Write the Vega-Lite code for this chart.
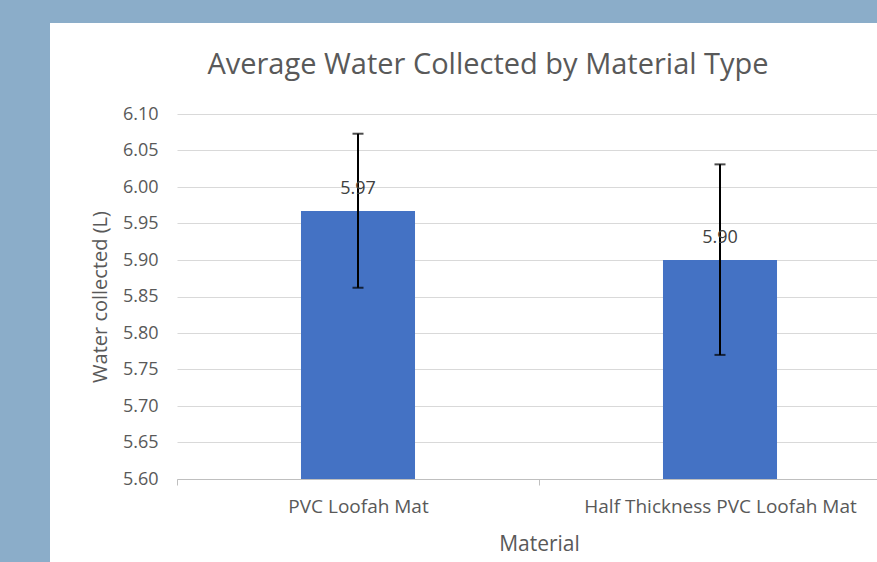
{
  "$schema": "https://vega.github.io/schema/vega-lite/v6.json",
  "width": 700,
  "height": 329,
  "autosize": {"type": "none"},
  "padding": {"left": 177, "top": 150, "right": 0, "bottom": 83},
  "background": "#8BADC9",
  "config": {
    "view": {"fill": "white", "stroke": "white", "strokeWidth": 254},
    "font": "Open Sans",
    "axisY": {
      "grid": true,
      "gridColor": "#D9D9D9",
      "gridWidth": 1,
      "domain": false,
      "ticks": false,
      "tickSize": 0,
      "tickCount": 10,
      "format": ".2f",
      "labelPadding": 19,
      "labelFontSize": 18,
      "labelColor": "#595959",
      "titleFontSize": 20,
      "titleColor": "#595959",
      "titleFontWeight": "normal",
      "titlePadding": 12
    },
    "axisX": {
      "grid": false,
      "domainColor": "#BFBFBF",
      "tickColor": "#BFBFBF",
      "tickSize": 6,
      "tickBand": "extent",
      "labelAngle": 0,
      "labelLimit": 0,
      "labelFontSize": 19,
      "labelColor": "#595959",
      "labelPadding": 12,
      "titleFontSize": 21,
      "titleColor": "#595959",
      "titleFontWeight": "normal",
      "titlePadding": 17
    }
  },
  "title": {
    "text": "Average Water Collected by Material Type",
    "fontSize": 29,
    "fontWeight": "normal",
    "font": "Open Sans",
    "color": "#595959",
    "anchor": "middle",
    "dx": -39,
    "offset": 25
  },
  "data": {
    "values": [
      {"material": "PVC Loofah Mat", "mean": 5.967, "lo": 5.862, "hi": 6.073},
      {"material": "Half Thickness PVC Loofah Mat", "mean": 5.9, "lo": 5.77, "hi": 6.031}
    ]
  },
  "encoding": {
    "x": {
      "field": "material",
      "type": "nominal",
      "sort": null,
      "title": "Material",
      "scale": {"range": [0, 724], "paddingInner": 0, "paddingOuter": 0}
    }
  },
  "layer": [
    {
      "mark": {"type": "bar", "color": "#4472C4", "width": {"band": 0.315}},
      "encoding": {
        "y": {
          "field": "mean",
          "type": "quantitative",
          "title": "Water collected (L)",
          "scale": {"domain": [5.6, 6.1], "range": [329, -36], "zero": false, "nice": false}
        },
        "y2": {"datum": 5.6}
      }
    },
    {
      "mark": {"type": "rule", "color": "black", "strokeWidth": 2},
      "encoding": {
        "y": {"field": "lo", "type": "quantitative", "title": "Water collected (L)"},
        "y2": {"field": "hi"}
      }
    },
    {
      "mark": {"type": "tick", "color": "black", "size": 11, "thickness": 2},
      "encoding": {
        "y": {"field": "lo", "type": "quantitative", "title": "Water collected (L)"}
      }
    },
    {
      "mark": {"type": "tick", "color": "black", "size": 11, "thickness": 2},
      "encoding": {
        "y": {"field": "hi", "type": "quantitative", "title": "Water collected (L)"}
      }
    },
    {
      "mark": {"type": "text", "fontSize": 18, "color": "#404040", "baseline": "middle", "dy": -22},
      "encoding": {
        "y": {"field": "mean", "type": "quantitative", "title": "Water collected (L)"},
        "text": {"field": "mean", "type": "quantitative", "format": ".2f"}
      }
    }
  ]
}
